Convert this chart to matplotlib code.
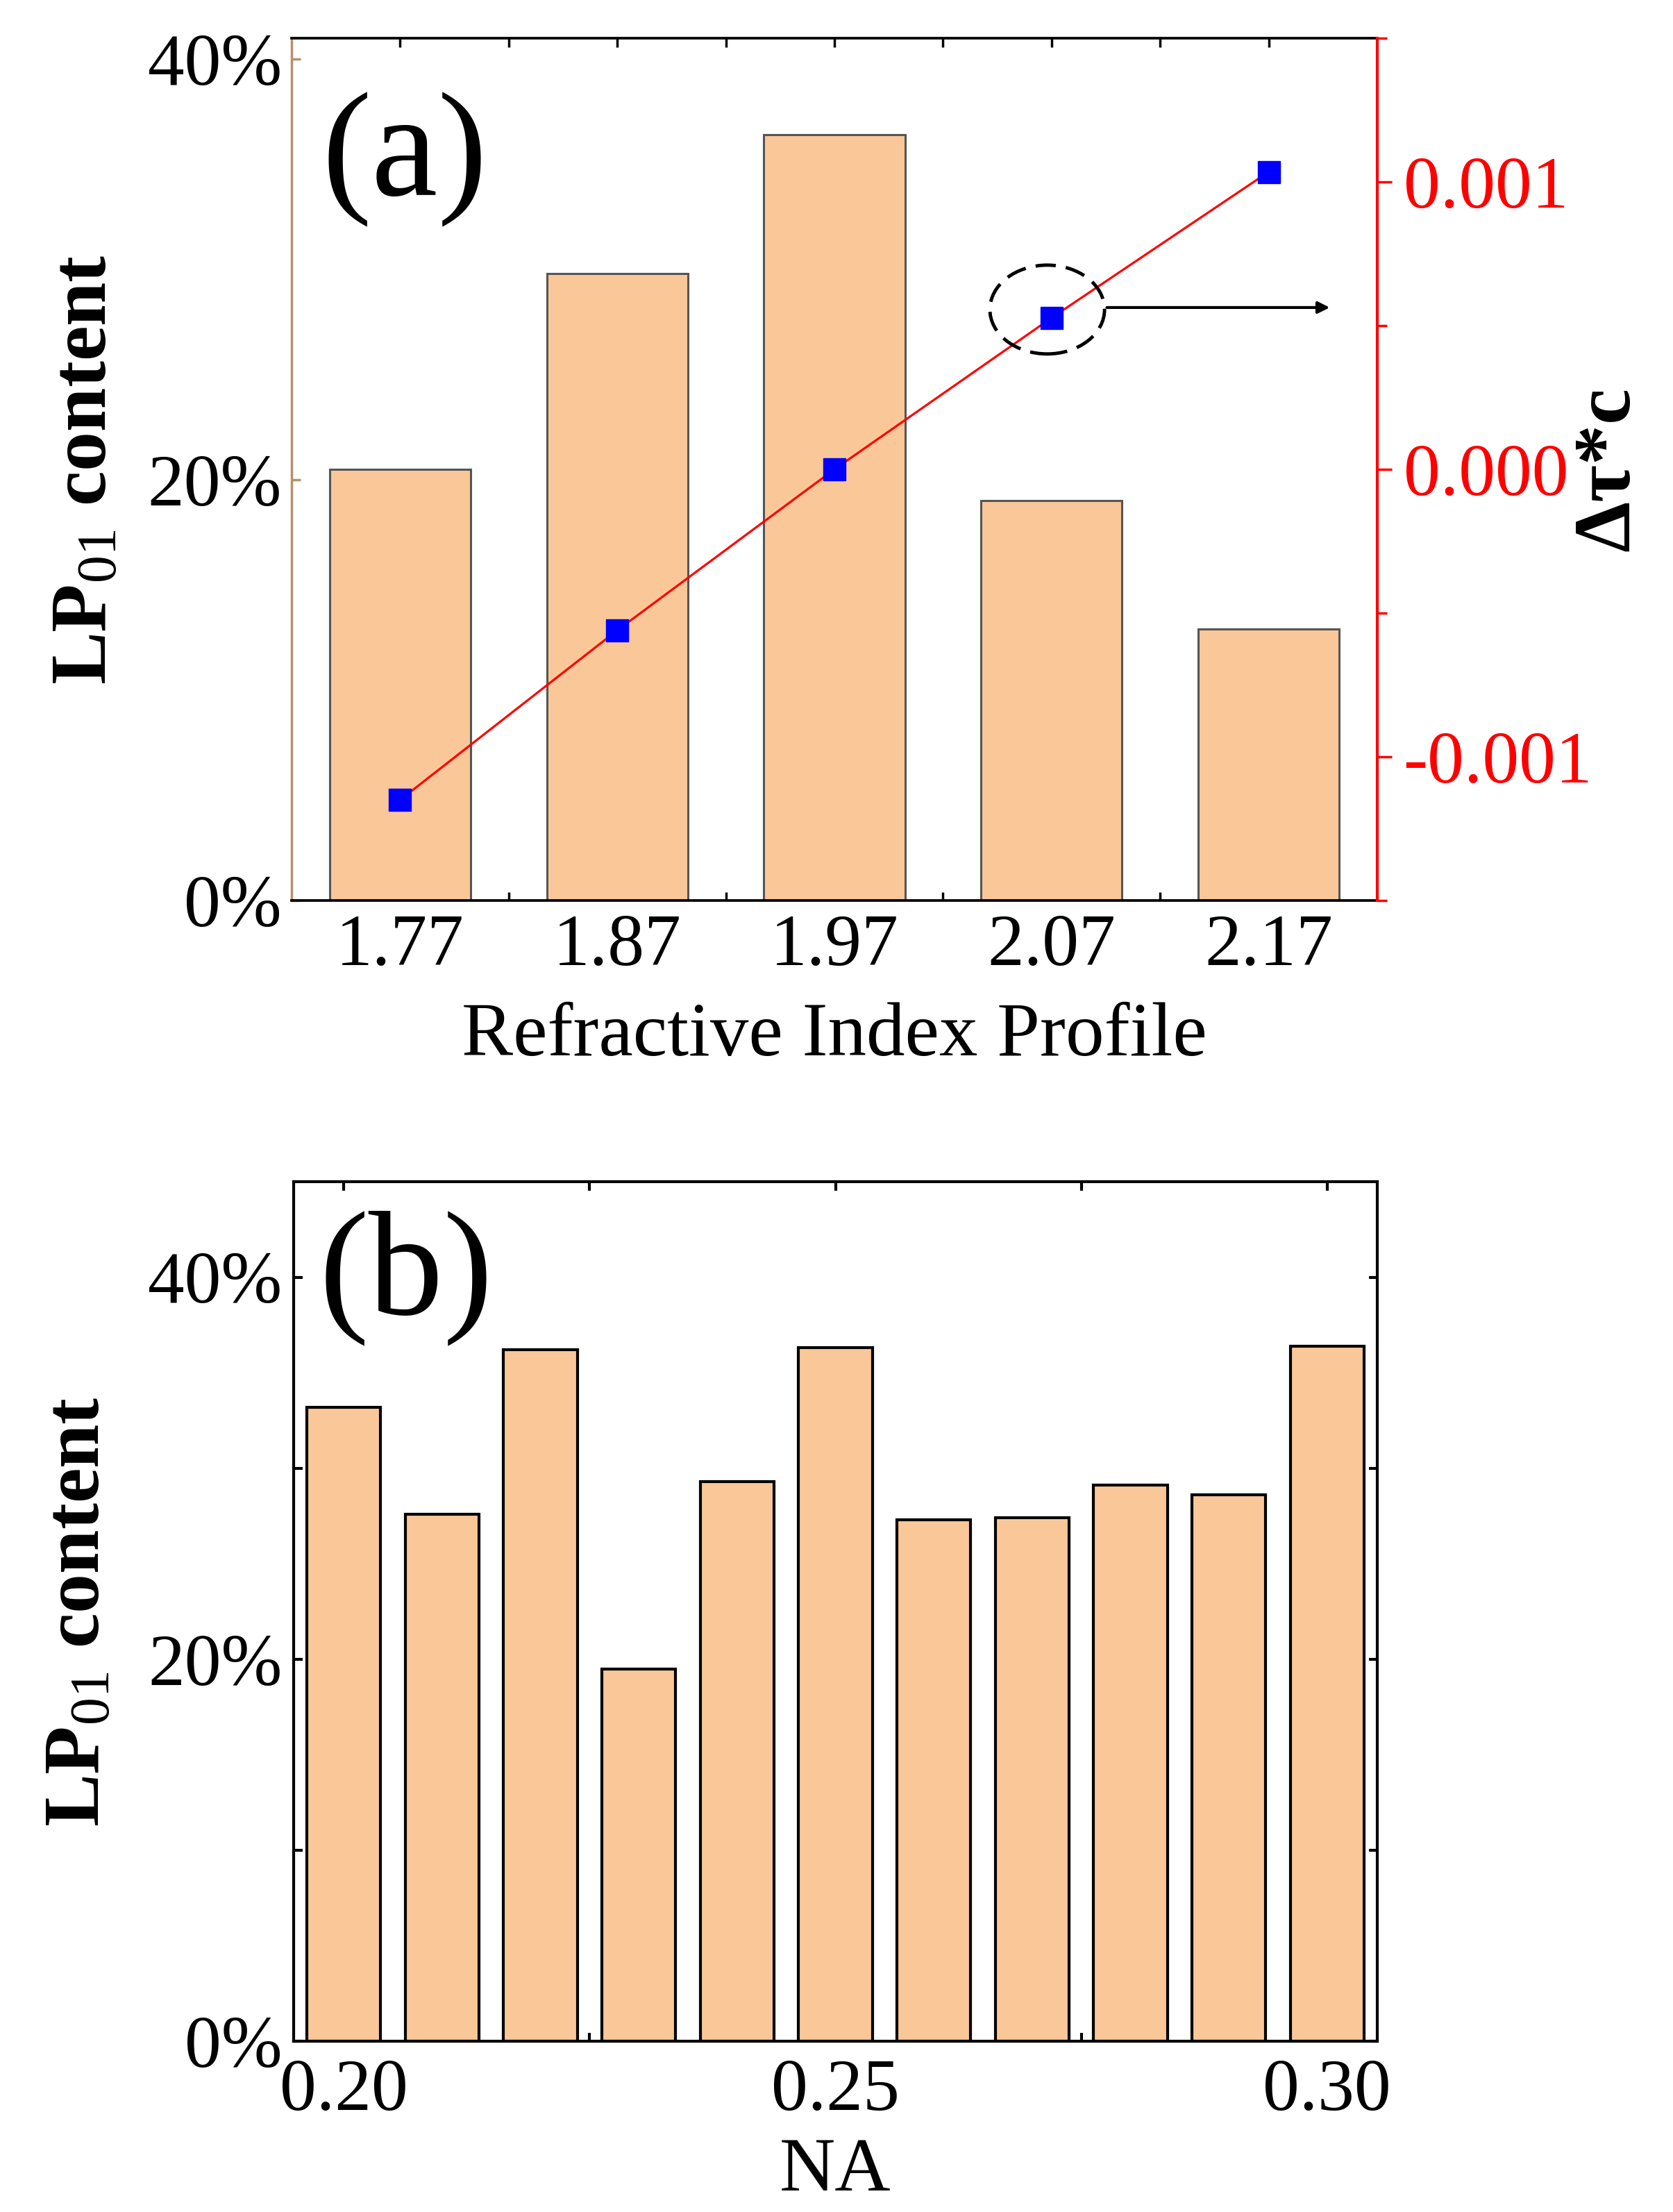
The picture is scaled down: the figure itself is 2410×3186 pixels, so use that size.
#LP01 content vs refractive index profile and NA

import numpy as np
import matplotlib.pyplot as plt
from matplotlib.patches import Ellipse
from matplotlib.ticker import FixedLocator, PercentFormatter

plt.rcParams['font.family'] = ['Liberation Serif', 'DejaVu Serif']
plt.rcParams['mathtext.fontset'] = 'custom'
plt.rcParams['mathtext.rm'] = 'Liberation Serif'
plt.rcParams['mathtext.it'] = 'Liberation Serif:italic'
plt.rcParams['mathtext.bf'] = 'Liberation Serif:bold'

#Panel (a) data
profile = [1.77, 1.87, 1.97, 2.07, 2.17]
profile_labels = ['1.77', '1.87', '1.97', '2.07', '2.17']
lp01_a = [20.5, 29.8, 36.4, 19.0, 12.9]  #percent
dtau_c = [-1.15e-3, -0.56e-3, 0.0, 0.527e-3, 1.035e-3]

#Panel (b) data
na = [0.20, 0.21, 0.22, 0.23, 0.24, 0.25, 0.26, 0.27, 0.28, 0.29, 0.30]
lp01_b = [33.2, 27.6, 36.2, 19.5, 29.3, 36.3, 27.3, 27.4, 29.1, 28.6, 36.4]

bar_color = '#FAC898'
tan = '#B8906A'
W, H = 2410, 3186

fig = plt.figure(figsize=(W / 100, H / 100), dpi=100)

#---------------- (a) ----------------
ax1 = fig.add_axes([420 / W, 1 - 1297 / H, 1564 / W, 1242 / H])
ax1.bar(profile, np.array(lp01_a) / 100, width=0.065, color=bar_color,
        edgecolor='#555555', linewidth=2.2, zorder=2)
ax1.set_xlim(1.72, 2.22)
ax1.set_ylim(0, 0.41)
ax1.set_xticks(profile)
ax1.set_xticklabels(profile_labels)
ax1.xaxis.set_minor_locator(FixedLocator(np.array(profile[:-1]) + 0.05))
ax1.set_yticks([0, 0.2, 0.4])
ax1.yaxis.set_major_formatter(PercentFormatter(1.0, decimals=0))
ax1.tick_params(axis='x', which='both', direction='in', top=True, bottom=True,
                length=9, width=2.5, labelsize=76, pad=14)
ax1.tick_params(axis='y', which='both', direction='in', left=True, right=False,
                length=9, width=2.5, labelsize=76, pad=10, color=tan)
for s in ['top', 'bottom']:
    ax1.spines[s].set_linewidth(2.7)
ax1.spines['left'].set_color(tan)
ax1.spines['left'].set_linewidth(2.5)
ax1.spines['right'].set_visible(False)
ax1.set_xlabel('Refractive Index Profile', fontsize=80, labelpad=22)
ax1.set_ylabel('LP$_{01}$ content', fontsize=82, fontweight='bold')
ax1.yaxis.set_label_coords(-0.155, 0.5)
ax1.text(0.104, 0.859, '(a)', fontsize=155, ha='center', va='center', transform=ax1.transAxes)

ax2 = ax1.twinx()
ax2.plot(profile, dtau_c, color='red', lw=2.3, marker='s', markersize=23,
         markerfacecolor='blue', markeredgecolor='blue', zorder=3)
ax2.set_ylim(-0.0015, 0.0015)
ax2.set_yticks([-0.001, 0.0, 0.001])
ax2.set_yticklabels(['-0.001', '0.000', '0.001'])
ax2.yaxis.set_minor_locator(FixedLocator([-0.0015, -0.0005, 0.0005, 0.0015]))
ax2.tick_params(axis='y', which='major', direction='out', length=15, width=2.5,
                colors='red', labelsize=76, pad=12)
ax2.tick_params(axis='y', which='minor', direction='out', length=10, width=2.5, colors='red')
for s in ['top', 'bottom', 'left']:
    ax2.spines[s].set_visible(False)
ax2.spines['right'].set_color('red')
ax2.spines['right'].set_linewidth(3)
ax2.set_ylabel('\u0394\u03c4*c', fontsize=84, fontweight='bold', rotation=90)
ax2.yaxis.set_label_coords(1.18, 0.5)

#dashed ellipse and arrow
ax2.add_patch(Ellipse((2.068, 0.000556), 0.0528, 0.000309, fill=False,
                      edgecolor='black', lw=3.5, linestyle=(0, (6, 3)), zorder=4))
ax2.annotate('', xy=(2.199, 0.000563), xytext=(2.0946, 0.000563),
             arrowprops=dict(arrowstyle='-|>', color='black', lw=3, mutation_scale=25))

#---------------- (b) ----------------
ax3 = fig.add_axes([423 / W, 1 - 2940 / H, 1561 / W, 1238 / H])
ax3.bar(na, np.array(lp01_b) / 100, width=0.0075, color=bar_color,
        edgecolor='black', linewidth=3, zorder=2)
ax3.set_xlim(0.1949, 0.3051)
ax3.set_ylim(0, 0.45)
ax3.set_xticks([0.20, 0.25, 0.30])
ax3.set_xticklabels(['0.20', '0.25', '0.30'])
ax3.xaxis.set_minor_locator(FixedLocator([0.225, 0.275]))
ax3.set_yticks([0, 0.2, 0.4])
ax3.yaxis.set_major_formatter(PercentFormatter(1.0, decimals=0))
ax3.yaxis.set_minor_locator(FixedLocator([0.1, 0.3]))
ax3.tick_params(axis='both', which='both', direction='in', top=True, bottom=True,
                left=True, right=True, length=9, width=3, labelsize=76)
ax3.tick_params(axis='x', which='both', pad=18)
ax3.tick_params(axis='y', which='both', pad=12)
for s in ax3.spines.values():
    s.set_linewidth(3)
ax3.set_xlabel('NA', fontsize=80, labelpad=12)
ax3.set_ylabel('LP$_{01}$ content', fontsize=82, fontweight='bold')
ax3.yaxis.set_label_coords(-0.164, 0.5)
ax3.text(0.104, 0.888, '(b)', fontsize=155, ha='center', va='center', transform=ax3.transAxes)

plt.savefig('out.png', dpi=100)
